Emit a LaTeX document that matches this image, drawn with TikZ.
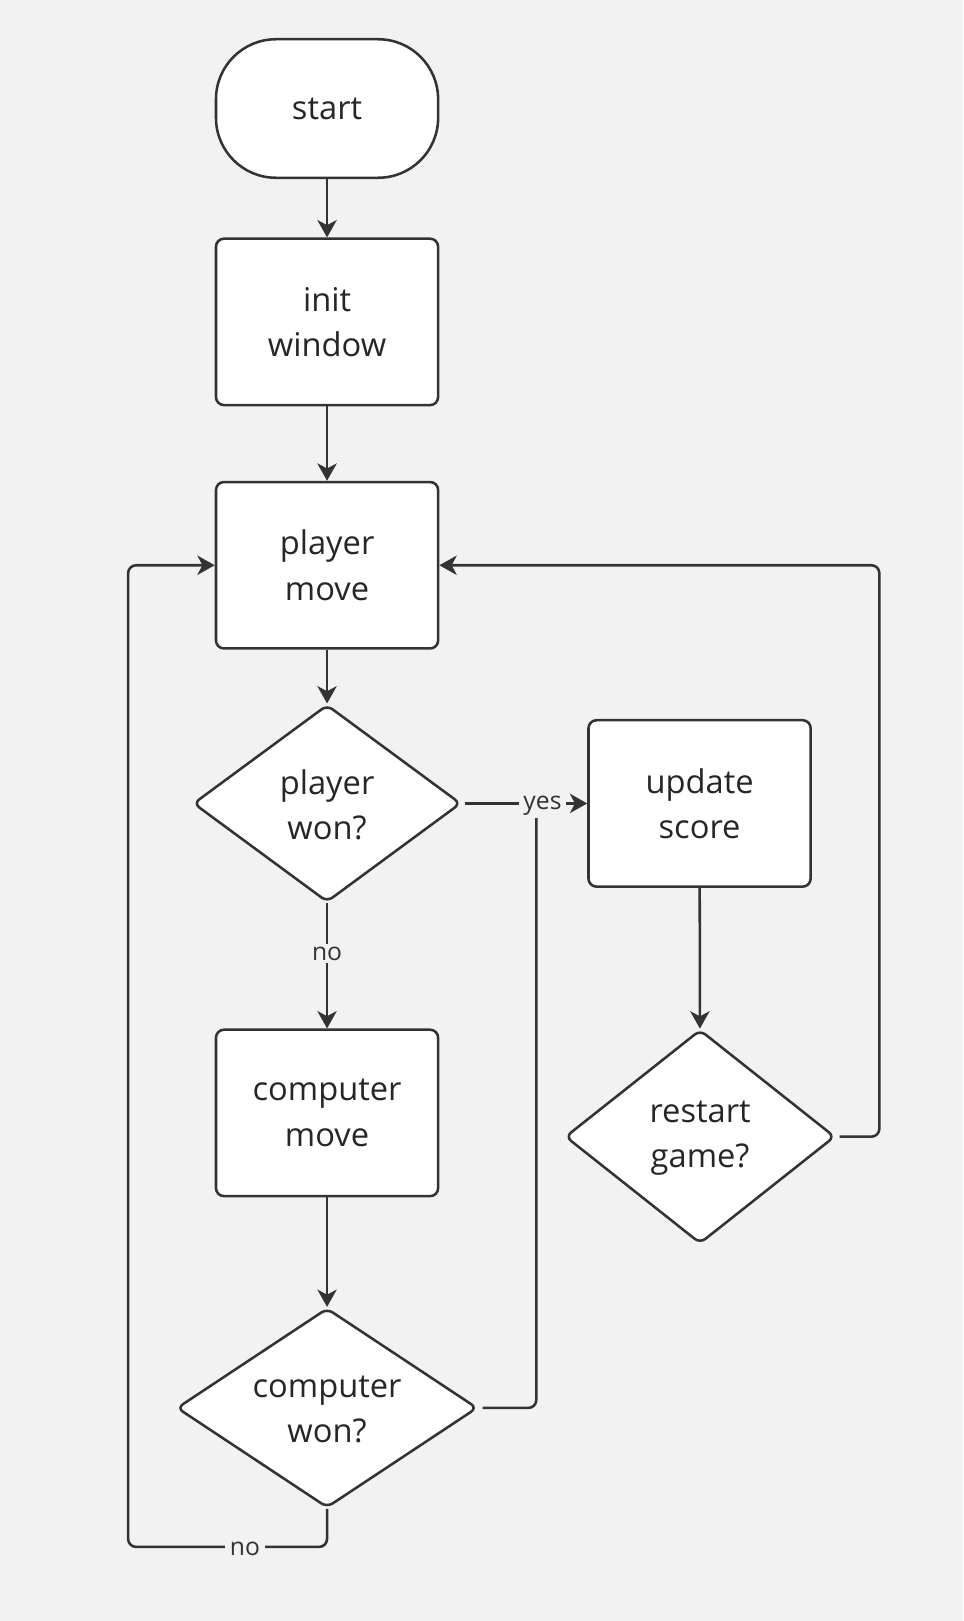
\documentclass[tikz,border=0pt]{standalone}
\usepackage{fontspec}
\setmainfont{Open Sans}
\usetikzlibrary{shapes.geometric,arrows.meta}
\definecolor{bg}{HTML}{F2F2F2}
\definecolor{ink}{HTML}{333333}
\definecolor{txt}{HTML}{262626}
\begin{document}
\begin{tikzpicture}[x=0.775pt,y=-0.775pt,
  box/.style={draw=ink, fill=white, line width=1.9pt, rounded corners=6pt,
    minimum width=166.6pt, minimum height=124.8pt, inner sep=0pt, align=center,
    font=\fontsize{24.5}{34}\selectfont, text=txt},
  term/.style={box, rounded corners=45pt, minimum height=103.9pt},
  dia/.style={draw=ink, fill=white, line width=1.9pt, diamond, rounded corners=5pt,
    inner sep=0pt},
  dtext/.style={align=center, font=\fontsize{24.5}{34}\selectfont, text=txt, inner sep=0pt},
  conn/.style={draw=ink, line width=1.9pt, rounded corners=6pt},
  arr/.style={conn, -{Stealth[length=13pt,width=14.5pt,inset=3.8pt]}},
  lab/.style={fill=bg, text=ink, font=\fontsize{18.5}{20}\selectfont, inner xsep=3.5pt, inner ysep=2pt}
]
\fill[bg] (0,0) rectangle (932,1568.7);
\useasboundingbox (0,0) rectangle (932,1568.7);

% nodes
\node[term] (start) at (316.5,105) {start};
\node[box] (init) at (316.5,311.5) {init\\window};
\node[box] (pm) at (316.5,547) {player\\move};
\node[dia, minimum width=200.7pt, minimum height=148pt] (pw) at (316.5,777.5) {};
\node[dtext] (pwt) at (316.5,779) {player\\won?};
\node[box] (us) at (677,777.5) {update\\score};
\node[box] (cm) at (316.5,1077) {computer\\move};
\node[dia, minimum width=202.3pt, minimum height=160.4pt] (rg) at (677.5,1100) {};
\node[dtext] (rgt) at (677.5,1101.5) {restart\\game?};
\node[dia, minimum width=225.5pt, minimum height=149.6pt] (cw) at (316.5,1362.5) {};
\node[dtext] (cwt) at (316.5,1364) {computer\\won?};

% coordinates
\coordinate (j) at (519,777.5);
\coordinate (rr1) at (851,1100);
\coordinate (rr2) at (851,547);
\coordinate (bl1) at (316.5,1497);
\coordinate (bl2) at (124,1497);
\coordinate (tl) at (124,547);

% connectors
\draw[arr] (start) -- (init);
\draw[arr] (init) -- (pm);
\draw[arr] (pm) -- (pw);
\draw[arr] (pw.south) -- (cm.north);
\draw[arr, shorten <=2.5pt] (pw.east) -- (us.west);
\draw[conn, shorten <=3pt] (cw.east) -| (j);
\draw[arr] (cm) -- (cw);
\draw[arr] (us) -- (rg);
\draw[arr, shorten <=2.5pt] (rg.east) -- (rr1) -- (rr2) -- (pm.east);
\draw[arr] (cw.south) -- (bl1) -- (bl2) -- (tl) -- (pm.west);

% labels
\node[lab] (no1) at (316.5,923) {no};
\node[lab] (yes) at (525,780) {yes};
\node[lab] (no2) at (237,1499) {no};
\end{tikzpicture}
\end{document}
